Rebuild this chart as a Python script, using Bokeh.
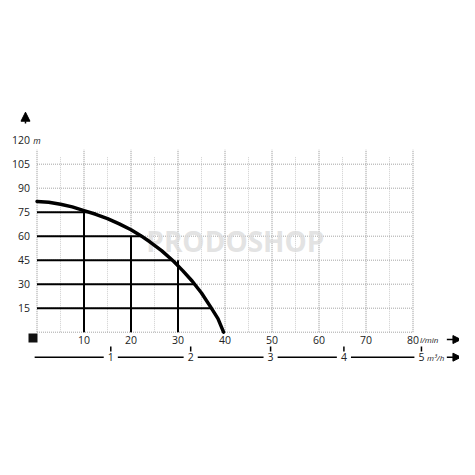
import numpy as np
from bokeh.plotting import figure
from bokeh.models import Range1d, Arrow, NormalHead
from bokeh.core.properties import value
from bokeh.embed import file_html
from bokeh.resources import INLINE

# ---- data ----
flow_lmin = [0, 2.5, 5, 7.5, 10, 12.5, 15, 17.5, 20, 22, 24, 26.5, 29, 31, 33, 35, 37, 38.5, 39.7]
head_m = [81.7, 81.2, 80.0, 78.3, 76.0, 73.7, 71.0, 67.7, 64.0, 60.5, 56.5, 51.0, 44.5, 38.5, 32.0, 24.5, 15.5, 8.5, 0.0]
ref_flows = [10, 20, 30]          # black verticals
ref_heads = [75, 60, 45, 30, 15]  # black horizontals
x_ticks = [10, 20, 30, 40, 50, 60, 70, 80]
y_ticks = [15, 30, 45, 60, 75, 90, 105, 120]
m3h_labels = ["1", "2", "3", "4", "5"]
m3h_pos_lmin = [15.7, 32.7, 49.7, 65.3, 81.8]

FONT = value("Open Sans")

# page mapping: x_page = 36.5 + 4.7*Q ; y_page = 331.7 - 1.6*H
W = H = 459
OFF = 0
xs = (OFF - 36.5) / 4.7
ye = (331.7 - OFF) / 1.6
p = figure(width=W, height=H, output_backend="svg", toolbar_location=None,
           x_range=Range1d(xs, xs + W / 4.7), y_range=Range1d(ye - H / 1.6, ye),
           min_border=0)
p.outline_line_color = None
p.axis.visible = False
p.grid.visible = False
p.background_fill_color = "white"

# ---- grid ----
major = list(range(0, 81, 10))
minor = list(range(5, 80, 10))
p.segment(x0=major, y0=[0]*len(major), x1=major, y1=[114]*len(major),
          line_color="#8f8f8f", line_width=1, line_dash="1 1")
p.segment(x0=minor, y0=[0]*len(minor), x1=minor, y1=[110]*len(minor),
          line_color="#cfcfcf", line_width=1, line_dash="1 1")
hl = list(range(0, 106, 15))
p.segment(x0=[0]*len(hl), y0=hl, x1=[80]*len(hl), y1=hl,
          line_color="#a5a5a5", line_width=1, line_dash="1 1")

# ---- watermark ----
p.text(x=[42.2], y=[57.3], text=["PRODOSHOP"], text_font=FONT, text_font_style="bold",
       text_font_size="28px", text_color="#dcdcdc", text_align="center",
       text_baseline="middle", text_alpha=0.8)

# ---- black reference lines ----
q_rev = flow_lmin[::-1]
h_rev = head_m[::-1]
h_ends = [float(np.interp(h, h_rev, q_rev)) for h in ref_heads]
p.segment(x0=[0]*len(ref_heads), y0=ref_heads, x1=h_ends, y1=ref_heads,
          line_color="black", line_width=2)
p.segment(x0=ref_flows, y0=[0]*3, x1=ref_flows, y1=ref_heads[:3],
          line_color="black", line_width=2)

# ---- curve ----
p.line(flow_lmin, head_m, line_color="black", line_width=3.5, line_cap="round",
       line_join="round")

# ---- y labels ----
p.text(x=[-1.5]*len(y_ticks), y=y_ticks, text=[str(t) for t in y_ticks],
       text_font=FONT, text_font_size="10.5px", text_align="right",
       text_baseline="middle", text_color="#222222")
p.text(x=[-0.8], y=[y_ticks[-1]], text=["m"], text_font=FONT, text_font_style="italic",
       text_font_size="8.5px", text_align="left", text_baseline="middle", text_color="#222222")
p.add_layout(Arrow(end=NormalHead(size=9, fill_color="black", line_color="black"),
                   x_start=-2.45, y_start=130.5, x_end=-2.45, y_end=137.5,
                   line_color="black", line_width=1.5))

# ---- x labels (l/min) ----
p.text(x=x_ticks, y=[-4.6]*len(x_ticks), text=[str(t) for t in x_ticks],
       text_font=FONT, text_font_size="10.5px", text_align="center",
       text_baseline="middle", text_color="#222222")
p.text(x=[81.5], y=[-4.6], text=["l/min"], text_font=FONT, text_font_style="italic",
       text_font_size="8px", text_align="left", text_baseline="middle", text_color="#222222")
p.add_layout(Arrow(end=NormalHead(size=8, fill_color="black", line_color="black"),
                   x_start=87.2, y_start=-4.6, x_end=90.2, y_end=-4.6,
                   line_color="black", line_width=1.5))
p.rect(x=[-0.85], y=[-3.6], width=9, height=9, width_units="screen",
       height_units="screen", fill_color="#111111", line_color=None)

# ---- m3/h axis ----
y_ax = -15.6
gap = 1.5
starts = [-0.5] + [q + gap for q in m3h_pos_lmin[:-1]]
ends = [q - gap for q in m3h_pos_lmin]
p.segment(x0=starts, y0=[y_ax]*len(starts), x1=ends, y1=[y_ax]*len(ends),
          line_color="black", line_width=1.5)
p.segment(x0=m3h_pos_lmin, y0=[-8.9]*5, x1=m3h_pos_lmin, y1=[-12.0]*5,
          line_color="black", line_width=1.5)
p.text(x=m3h_pos_lmin, y=[y_ax]*5, text=m3h_labels, text_font=FONT,
       text_font_size="10.5px", text_align="center", text_baseline="middle",
       text_color="#222222")
p.text(x=[83.0], y=[y_ax], text=["m³/h"], text_font=FONT, text_font_style="italic",
       text_font_size="8px", text_align="left", text_baseline="middle", text_color="#222222")
p.add_layout(Arrow(end=NormalHead(size=8, fill_color="black", line_color="black"),
                   x_start=87.2, y_start=y_ax, x_end=90.2, y_end=y_ax,
                   line_color="black", line_width=1.5))

open("out.html", "w").write(file_html(p, INLINE))
